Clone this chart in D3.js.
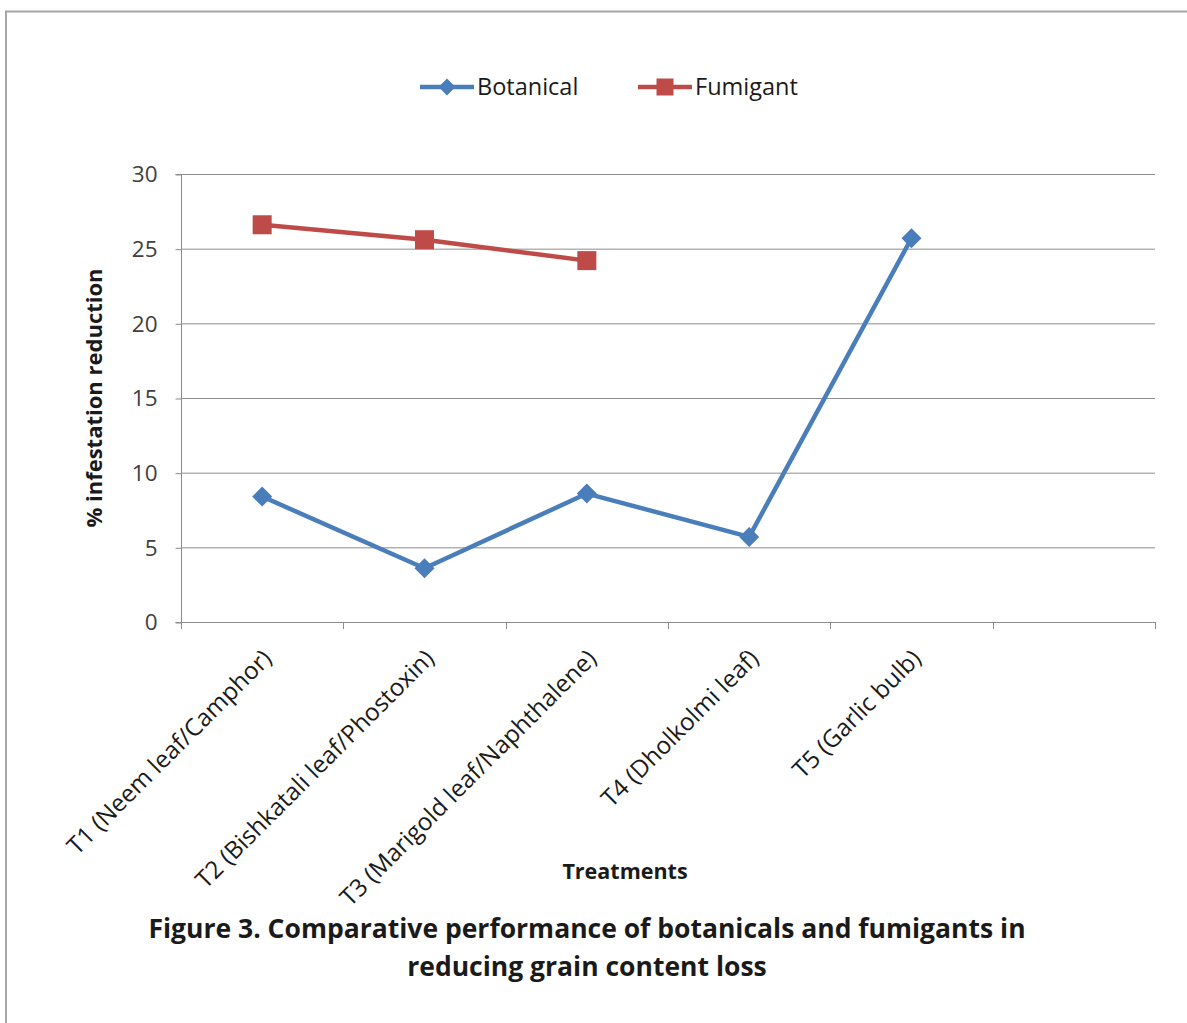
<!DOCTYPE html>
<html>
<head>
<meta charset="utf-8">
<script src="https://cdn.jsdelivr.net/npm/d3@7"></script>
<style>
  html, body { margin: 0; padding: 0; background: #fff; }
  svg { display: block; font-family: "Open Sans", "Noto Sans", sans-serif; }
</style>
</head>
<body>
<svg id="chart" width="1187" height="1023"></svg>
<script>
// Treatment categories (the last slot is left empty on the axis)
const categories = [
  "T1 (Neem leaf/Camphor)",
  "T2 (Bishkatali leaf/Phostoxin)",
  "T3 (Marigold leaf/Naphthalene)",
  "T4 (Dholkolmi leaf)",
  "T5 (Garlic bulb)",
  ""
];
// % infestation reduction per treatment
const botanical = [8.4, 3.6, 8.6, 5.7, 25.7];
const fumigant = [26.6, 25.6, 24.2];
const yTicks = [0, 5, 10, 15, 20, 25, 30];

// square-proportioned diamond marker of half-width r
const diamond = r => `M0,${-r}L${r},0L0,${r}L${-r},0Z`;
const square = r => `M${-r},${-r}H${r}V${r}H${-r}Z`;

const seriesList = [
  { name: "Botanical", values: botanical, color: "#4A7EBB", marker: diamond, r: 10, lr: 8.5 },
  { name: "Fumigant", values: fumigant, color: "#BE4B48", marker: square, r: 9.5, lr: 8.5 }
];

const svg = d3.select("#chart");

// outer frame (top and left edges only)
svg.append("path")
  .attr("d", "M6,1023 V11.5 H1187")
  .attr("fill", "none").attr("stroke", "#a6a6a6").attr("stroke-width", 2);

const plot = { left: 181, right: 1155, top: 174, bottom: 622 };

const x = d3.scaleBand().domain(d3.range(categories.length))
  .range([plot.left, plot.right]).paddingInner(0).paddingOuter(0);
const y = d3.scaleLinear().domain([0, 30]).range([plot.bottom, plot.top]);

// horizontal gridlines
svg.append("g").selectAll("line").data(yTicks.filter(t => t > 0)).join("line")
  .attr("x1", plot.left).attr("x2", plot.right)
  .attr("y1", d => y(d) + 0.5).attr("y2", d => y(d) + 0.5)
  .attr("stroke", "#8c8c8c").attr("stroke-width", 1);

// y axis
const yAxis = svg.append("g").attr("transform", `translate(${plot.left + 0.5},0)`)
  .call(d3.axisLeft(y).tickValues(yTicks).tickSize(6).tickPadding(18));
yAxis.select(".domain").attr("stroke", "#8c8c8c").attr("d", `M-6,${plot.top + 0.5}H0V${plot.bottom + 0.5}H-6`);
yAxis.selectAll(".tick line").attr("stroke", "#8c8c8c").attr("transform", "translate(0,0.5)");
yAxis.selectAll(".tick text").attr("font-size", 22.5).attr("fill", "#404040")
  .attr("font-family", "Open Sans, sans-serif").attr("dy", "0.35em");

// x axis baseline with category boundary ticks
const xAxisG = svg.append("g");
xAxisG.append("line")
  .attr("x1", plot.left).attr("x2", plot.right)
  .attr("y1", plot.bottom + 0.5).attr("y2", plot.bottom + 0.5)
  .attr("stroke", "#8c8c8c");
const boundaries = d3.range(categories.length + 1).map(i => i < categories.length ? x(i) : x(categories.length - 1) + x.bandwidth());
xAxisG.selectAll("line.tk").data(boundaries).join("line").attr("class", "tk")
  .attr("x1", d => Math.round(d) + 0.5).attr("x2", d => Math.round(d) + 0.5)
  .attr("y1", plot.bottom).attr("y2", plot.bottom + 7)
  .attr("stroke", "#8c8c8c");

// rotated category labels
xAxisG.selectAll("text").data(categories).join("text")
  .attr("transform", (d, i) => `translate(${x(i) + x.bandwidth() / 2 + 11},${plot.bottom + 38}) rotate(-45)`)
  .attr("text-anchor", "end")
  .attr("font-size", 24.2).attr("fill", "#1a1a1a")
  .text(d => d);

// series lines and markers
const line = d3.line().x((d, i) => x(i) + x.bandwidth() / 2).y(d => y(d));
seriesList.forEach(s => {
  svg.append("path").datum(s.values)
    .attr("d", line).attr("fill", "none")
    .attr("stroke", s.color).attr("stroke-width", 4.5).attr("stroke-linejoin", "round");
  svg.append("g").selectAll("path").data(s.values).join("path")
    .attr("transform", (d, i) => `translate(${x(i) + x.bandwidth() / 2},${y(d)})`)
    .attr("d", s.marker(s.r))
    .attr("fill", s.color);
});

// legend
const legendItems = [{ x: 420, s: seriesList[0] }, { x: 638, s: seriesList[1] }];
legendItems.forEach(({ x: lx, s }) => {
  const g = svg.append("g").attr("transform", `translate(${lx},87)`);
  g.append("line").attr("x1", 0).attr("x2", 54).attr("stroke", s.color).attr("stroke-width", 4.5);
  g.append("path").attr("transform", "translate(27,0)")
    .attr("d", s.marker(s.lr))
    .attr("fill", s.color);
  g.append("text").attr("x", 57).attr("dy", "0.35em")
    .attr("font-size", 23.5).attr("fill", "#1a1a1a").text(s.name);
});

// axis titles
svg.append("text")
  .attr("transform", `translate(102,${(plot.top + plot.bottom) / 2}) rotate(-90)`)
  .attr("text-anchor", "middle").attr("font-size", 22).attr("font-weight", "bold")
  .attr("fill", "#1a1a1a").text("% infestation reduction");
svg.append("text")
  .attr("x", 625).attr("y", 879).attr("text-anchor", "middle")
  .attr("font-size", 21.5).attr("font-weight", "bold").attr("fill", "#1a1a1a")
  .text("Treatments");

// figure caption
const caption = ["Figure 3. Comparative performance of botanicals and fumigants in", "reducing grain content loss"];
svg.append("g").selectAll("text").data(caption).join("text")
  .attr("x", 587).attr("y", (d, i) => 938 + i * 38)
  .attr("text-anchor", "middle").attr("font-size", 26.5).attr("font-weight", "bold")
  .attr("fill", "#1a1a1a").text(d => d);
</script>
</body>
</html>
